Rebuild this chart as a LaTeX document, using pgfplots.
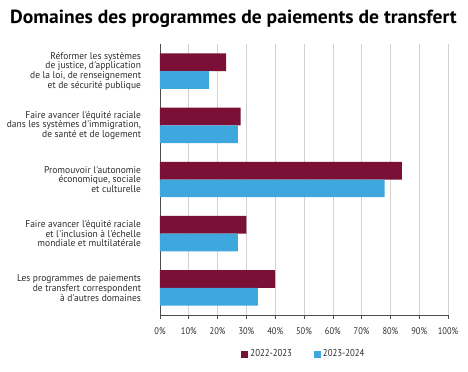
\documentclass[border=0pt]{standalone}
\usepackage{fontspec}
\setmainfont{PT Sans}
\newfontfamily\narrowfont[FakeStretch=0.88]{PT Sans}
\newfontfamily\labelfont[FakeStretch=0.97]{PT Sans}
\newfontfamily\titlefont[FakeStretch=1.03]{PT Sans}
\usepackage{pgfplots}
\pgfplotsset{compat=1.18}
\definecolor{maroon}{RGB}{122,16,54}
\definecolor{skyb}{RGB}{62,167,221}
\definecolor{txt}{RGB}{45,45,45}
\begin{document}
\begin{tikzpicture}
\useasboundingbox (-160bp,-57bp) rectangle (308bp,315bp);
\begin{axis}[
  at={(0,0)}, anchor=south west,
  scale only axis,
  width=288bp, height=271bp,
  xbar,
  xmin=0, xmax=100,
  ymin=-0.5, ymax=4.5,
  y dir=reverse,
  bar width=0.327,
  xtick={0,10,...,100},
  xticklabel={\pgfmathprintnumber{\tick}\%},
  /pgf/number format/assume math mode=true,
  xticklabel style={font=\narrowfont\fontsize{9.6bp}{10bp}\selectfont, text=txt, yshift=-6bp},
  ytick={0,1,2,3,4},
  yticklabels={
    {Réformer les systèmes\\de justice, d'application\\de la loi, de renseignement\\et de sécurité publique},
    {Faire avancer l'équité raciale\\dans les systèmes d'immigration,\\de santé et de logement},
    {Promouvoir l'autonomie\\économique, sociale\\et culturelle},
    {Faire avancer l'équité raciale\\et l'inclusion à l'échelle\\mondiale et multilatérale},
    {Les programmes de paiements\\de transfert correspondent\\à d'autres domaines}},
  yticklabel style={align=right, font=\labelfont\fontsize{9.8bp}{9.7bp}\selectfont, text=txt, xshift=-12bp},
  major y tick style={draw=none},
  xtick align=outside,
  major tick length=3.5bp,
  x tick style={color=black!70, line width=0.6pt},
  xmajorgrids,
  grid style={color=black!18, line width=0.6pt},
  axis x line*=bottom,
  axis y line*=left,
  axis line style={color=black!70, line width=0.7pt},
  x axis line style={-},
  y axis line style={-},
  title={Domaines des programmes de paiements de transfert},
  title style={at={(axis description cs:0.5,1)}, anchor=base, xshift=-70.5bp, yshift=15bp, font=\titlefont\bfseries\fontsize{19bp}{22bp}\selectfont},
  legend style={at={(axis description cs:0.5,0)}, anchor=center, yshift=-39bp, draw=none,
    font=\narrowfont\fontsize{10bp}{11bp}\selectfont, text=txt,
    /tikz/every even column/.append style={column sep=20bp}},
  legend columns=2,
  legend image code/.code={\fill[#1] (0bp,-3.5bp) rectangle (7bp,3.5bp);},
  clip=false,
]
\addplot[fill=maroon, draw=none, bar shift=-0.1635] coordinates {(23,0) (28,1) (84,2) (30,3) (40,4)};
\addplot[fill=skyb, draw=none, bar shift=0.1635] coordinates {(17,0) (27,1) (78,2) (27,3) (34,4)};
\legend{2022-2023, 2023-2024}
\end{axis}
\end{tikzpicture}
\end{document}
